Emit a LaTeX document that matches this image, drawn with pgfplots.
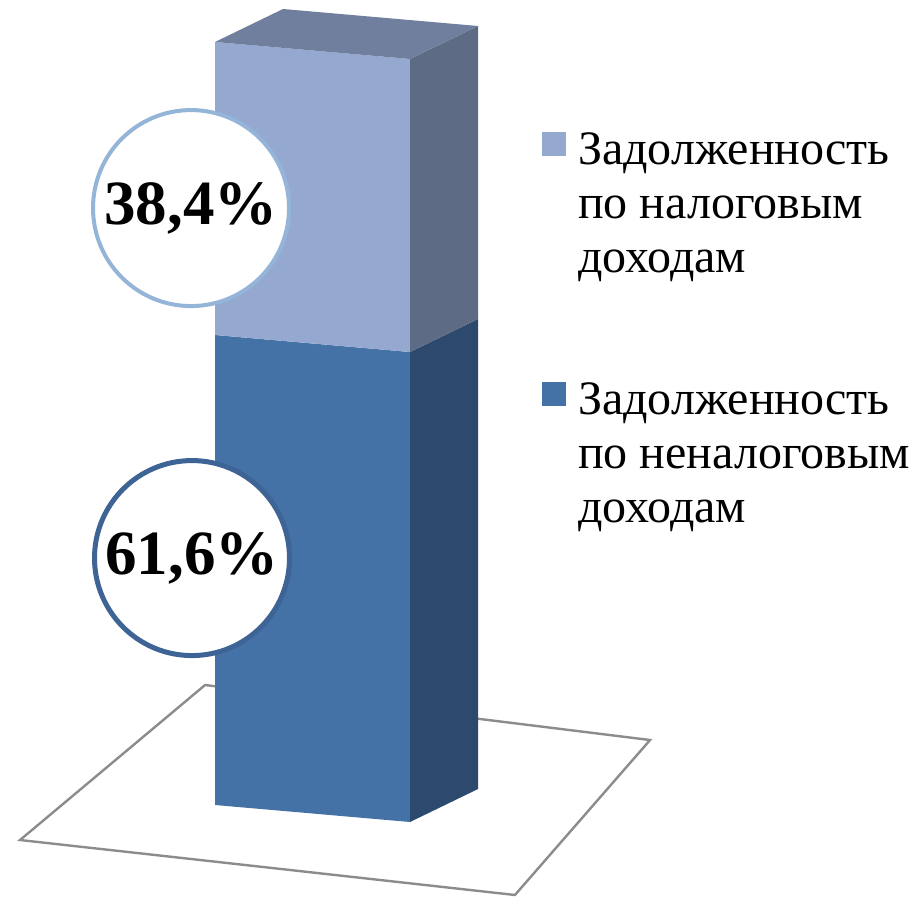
\documentclass[border=0pt]{standalone}
\usepackage{fontspec}
\setmainfont{Liberation Serif}
\usepackage{pgfplots}
\pgfplotsset{compat=1.18}
\definecolor{frontTop}{HTML}{95A9D0}
\definecolor{sideTop}{HTML}{5E6B85}
\definecolor{topFace}{HTML}{6F7F9D}
\definecolor{frontBot}{HTML}{4472A6}
\definecolor{sideBot}{HTML}{2D4A6E}
\definecolor{floorGray}{HTML}{8C8C8C}
\definecolor{ringTop}{HTML}{94B4D8}
\definecolor{ringBot}{HTML}{3E6496}
\begin{document}
\begin{tikzpicture}
\begin{axis}[
  hide axis, clip=false,
  x={(97.5pt,-8.5pt)}, y={(34pt,16.5pt)}, z={(0pt,3.815pt)},
  xmin=-1.2, xmax=2.2, ymin=-1.7, ymax=3.1, zmin=0, zmax=100,
  legend image code/.code={\fill[#1, draw=none] (0pt,24pt) rectangle (12pt,36pt);},
  legend style={draw=none, fill=none, inner sep=0pt, outer sep=0pt,
    at={(axis cs:1.677,0,91.9)}, anchor=north west,
    font=\fontsize{24}{27}\selectfont,
    nodes={inner sep=0pt},
    cells={anchor=west, align=left},
    column sep=6pt, row sep=53pt},
]
% floor
\addplot3[forget plot, draw=floorGray, line width=1.2pt, fill=white]
  coordinates {(-0.534,-1.336,0) (-1.118,3.060,0) (1.309,2.644,0) (2.110,-1.640,0)} -- cycle;
% front faces
\addplot3[forget plot, draw=none, fill=frontBot]
  coordinates {(0,0,0) (1,0,0) (1,0,61.6) (0,0,61.6)} -- cycle;
\addplot3[forget plot, draw=none, fill=frontTop]
  coordinates {(0,0,61.6) (1,0,61.6) (1,0,100) (0,0,100)} -- cycle;
% right faces
\addplot3[forget plot, draw=none, fill=sideBot]
  coordinates {(1,0,0) (1,1,0) (1,1,61.6) (1,0,61.6)} -- cycle;
\addplot3[forget plot, draw=none, fill=sideTop]
  coordinates {(1,0,61.6) (1,1,61.6) (1,1,100) (1,0,100)} -- cycle;
% top face
\addplot3[forget plot, draw=none, fill=topFace]
  coordinates {(0,0,100) (1,0,100) (1,1,100) (0,1,100)} -- cycle;
\coordinate (O) at (axis cs:0,0,0);
% labels
\node[circle, draw=ringTop, line width=2pt, fill=white, minimum size=98pt, inner sep=0pt,
  font=\fontsize{31.5}{36}\selectfont\bfseries] at (axis cs:-0.123,0,77.96) {38,4\%};
\node[circle, draw=ringBot, line width=2.5pt, fill=white, minimum size=97.5pt, inner sep=0pt,
  font=\fontsize{31.5}{36}\selectfont\bfseries] at (axis cs:-0.118,0,32.1) {61,6\%};
\addlegendimage{fill=frontTop}
\addlegendentry{Задолженность\\по налоговым\\доходам}
\addlegendimage{fill=frontBot}
\addlegendentry{Задолженность\\по неналоговым\\доходам}
\end{axis}
\pgfresetboundingbox
\path (O) ++(-107.5pt,-48pt) rectangle ++(457pt,450.5pt);
\end{tikzpicture}
\end{document}
